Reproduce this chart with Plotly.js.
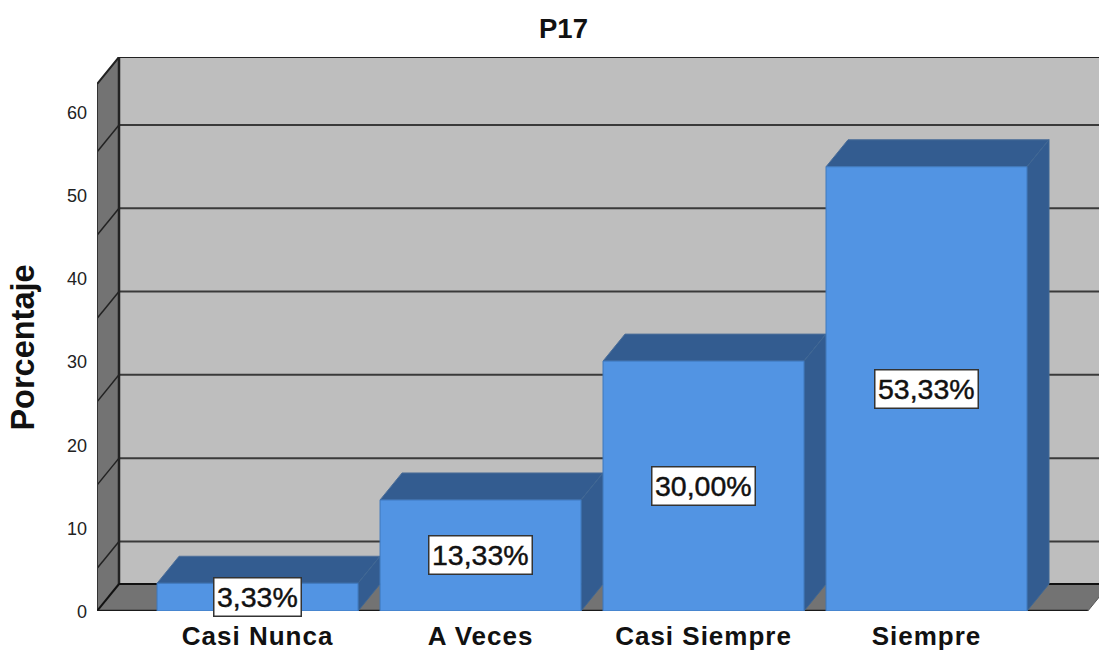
<!DOCTYPE html>
<html>
<head>
<meta charset="utf-8">
<script src="https://cdn.plot.ly/plotly-3.0.1.min.js"></script>
<style>
html,body{margin:0;padding:0;background:#fff;overflow:hidden}
#chart{width:1099px;height:650px}
.xtick text{letter-spacing:1px}
.annotation text{stroke:#111111;stroke-width:0.45px}
</style>
</head>
<body>
<div id="chart"></div>
<script>
const categories = ["Casi Nunca", "A Veces", "Casi Siempre", "Siempre"];
const percentages = [3.33, 13.33, 30.00, 53.33];
const barLabels = ["3,33%", "13,33%", "30,00%", "53,33%"];
const yTicks = [0, 10, 20, 30, 40, 50, 60];
const gridValues = [10, 20, 30, 40, 50, 60];

// pseudo-3D projection constants, in axis units
const unitPx = 8.33, plotPx = 554;
const depthX = 22 / 223, depthY = 27 / unitPx, barWidth = 201 / 223;
const gridShift = 1.65, yFrontTop = 527 / unitPx, xMin = -0.72, xMax = 3.7735, floorEnd = 3.7235;
const yTop = yFrontTop + depthY;

const FONT = "Liberation Sans, Arial, sans-serif";
const traces = [];
function poly(xs, ys, fill, lineColor, lineWidth) {
  traces.push({
    type: "scatter", mode: "lines", x: xs.concat(xs[0]), y: ys.concat(ys[0]),
    fill: "toself", fillcolor: fill, cliponaxis: false,
    line: {color: lineColor || fill, width: lineWidth === undefined ? 0 : lineWidth},
    hoverinfo: "skip", showlegend: false
  });
}
function seg(xs, ys, color, width) {
  traces.push({
    type: "scatter", mode: "lines", x: xs, y: ys, cliponaxis: false,
    line: {color: color, width: width}, hoverinfo: "skip", showlegend: false
  });
}

const bx = xMin + depthX;   // back-wall left edge
const farX = xMax + depthX;
// back wall
poly([bx, farX, farX, bx], [depthY, depthY, yTop, yTop], "#bebebe");
// left wall
poly([xMin, bx, bx, xMin], [0, depthY, yTop, yTop - depthY], "#737373");
// floor
poly([xMin, floorEnd, floorEnd + depthX, bx], [0, 0, depthY, depthY], "#737373");
// grid lines on both walls
gridValues.forEach(v => {
  const g = v - gridShift;
  seg([bx, farX], [g, g], "#3a3a3a", 2);
  seg([xMin, bx], [g - depthY, g], "#222222", 1.5);
});
// wall edges
seg([xMin, bx, farX], [yTop - depthY, yTop, yTop], "#222222", 2);
seg([bx, bx], [depthY, yTop], "#222222", 2.5);
seg([xMin, xMin], [0, yTop - depthY], "#333333", 2);
seg([xMin, bx], [0, depthY], "#111111", 2);
seg([bx, farX], [depthY, depthY], "#111111", 2);
seg([xMin, floorEnd], [0, 0], "#1a1a1a", 2.5);
seg([floorEnd, floorEnd + depthX], [0, depthY], "#555555", 1);

// bars
percentages.forEach((v, i) => {
  const l = i - barWidth / 2, r = i + barWidth / 2;
  poly([l, r, r + depthX, l + depthX], [v, v, v + depthY, v + depthY], "#335c90", "#4d6f99", 1);
  poly([r, r + depthX, r + depthX, r], [0, depthY, v + depthY, v], "#335c90", "#3f6794", 1);
  poly([l, r, r, l], [0, 0, v, v], "#5294e3", "#3f78bd", 1);
});

// invisible carrier so the labelled value axis (front face of the box) is drawn
traces.push({type: "scatter", mode: "lines", x: categories.map((c, i) => i), y: percentages,
  yaxis: "y2", opacity: 0, line: {width: 0}, hoverinfo: "skip", showlegend: false});

const annotations = percentages.map((v, i) => ({
  x: i, y: v / 2, xref: "x", yref: "y", text: barLabels[i], showarrow: false,
  font: {family: FONT, size: 28.5, color: "#111111"},
  bgcolor: "#ffffff", bordercolor: "#333333", borderwidth: 1.5, borderpad: 2.5
}));

const layout = {
  width: 1099, height: 650,
  margin: {l: 97, r: 0, t: 57, b: 39},
  paper_bgcolor: "#ffffff", plot_bgcolor: "rgba(0,0,0,0)",
  title: {text: "<b>P17</b>", x: 563.5 / 1099, xanchor: "center", y: 1 - 28 / 650, yanchor: "middle",
          font: {family: FONT, size: 27.5, color: "#111111"}},
  xaxis: {
    range: [xMin, xMax], tickmode: "array", tickvals: categories.map((c, i) => i),
    ticktext: categories.map(c => "<b>" + c + "</b>"),
    showgrid: false, zeroline: false, showline: false, ticks: "",
    tickfont: {family: FONT, size: 26, color: "#111111"}, ticklabelstandoff: 7
  },
  yaxis: {
    range: [0, plotPx / unitPx], visible: false, showgrid: false, zeroline: false
  },
  yaxis2: {
    domain: [0, 527 / plotPx], anchor: "x",
    range: [0, yFrontTop], tickmode: "array", tickvals: yTicks, ticktext: yTicks.map(String),
    showgrid: false, zeroline: false, showline: false, ticks: "",
    tickfont: {family: FONT, size: 18, color: "#222222"}, ticklabelstandoff: 9, ticklabelshift: 1,
    title: {text: "<b>Porcentaje</b>", standoff: 22, font: {family: FONT, size: 32.5, color: "#111111"}}
  },
  annotations: annotations,
  showlegend: false, hovermode: false
};
Plotly.newPlot("chart", traces, layout, {displayModeBar: false, staticPlot: true});
</script>
</body>
</html>
